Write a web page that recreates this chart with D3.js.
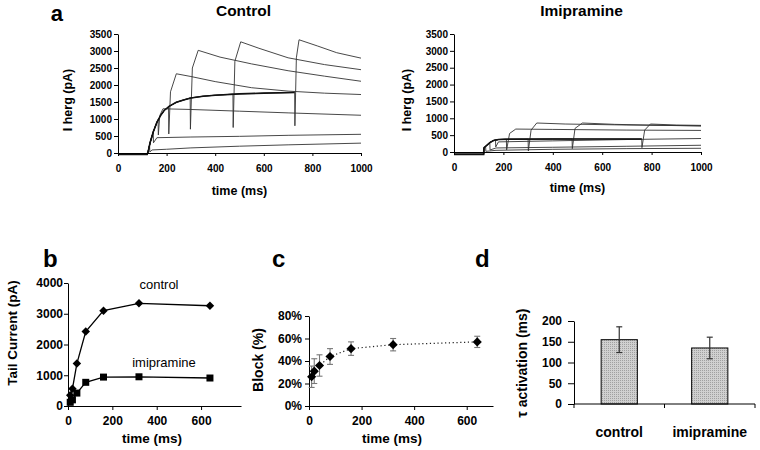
<!DOCTYPE html>
<html>
<head>
<meta charset="utf-8">
<script src="https://cdn.jsdelivr.net/npm/d3@7"></script>
<style>
body{margin:0;background:#fff;}
svg text{font-family:"Liberation Sans",Arial,sans-serif;fill:#000;}
</style>
</head>
<body>
<svg id="chart" width="760" height="450"></svg>
<script>
// panel a: hERG current traces, [time ms, current pA]
const aTimeTicks=[0,200,400,600,800,1000];
const aCurrentTicks=[0,500,1000,1500,2000,2500,3000,3500];

const ctrlAct=[[0,-40],[120,-40],[124,40],[132,300],[145,620],[160,900],[175,1100],[190,1250],[210,1370],[240,1490],[270,1560],[300,1620],[350,1670],[400,1700],[500,1740],[600,1760],[727,1780]];
const ctrlEnds=[130,145,165,208,297,473,727];
const ctrlTails=[
  [[130,220],[131,30],[140,90],[200,110],[300,150],[500,200],[700,240],[1000,290]],
  [[145,600],[146,300],[160,450],[300,470],[500,490],[700,520],[1000,550]],
  [[165,980],[166,530],[172,1100],[185,1300],[300,1280],[500,1230],[700,1180],[1000,1110]],
  [[208,1360],[209,560],[216,1800],[240,2330],[300,2250],[400,2100],[550,1920],[700,1820],[850,1760],[1000,1720]],
  [[297,1620],[298,700],[306,2500],[330,3020],[420,2820],[550,2620],[700,2420],[850,2260],[1000,2110]],
  [[473,1730],[474,750],[481,2700],[505,3270],[580,3080],[700,2800],[850,2600],[1000,2450]],
  [[727,1780],[728,800],[734,2800],[745,3330],[820,3150],[900,2950],[1000,2790]]
];

const imiAct=[[0,-70],[120,-70],[121,120],[130,180],[145,280],[160,340],[180,370],[220,380],[400,385],[600,385],[760,385]];
const imiEnds=[128,145,168,212,300,478,760];
const imiTails=[
  [[128,160],[129,20],[170,50],[400,80],[700,100],[1000,110]],
  [[145,280],[146,60],[170,120],[400,140],[700,170],[1000,200]],
  [[168,350],[169,150],[180,300],[400,330],[700,370],[1000,400]],
  [[212,378],[213,60],[225,550],[250,680],[400,670],[700,650],[1000,640]],
  [[300,382],[301,30],[312,650],[335,860],[450,830],[700,800],[1000,780]],
  [[478,385],[479,100],[490,700],[520,860],[650,820],[850,790],[1000,770]],
  [[760,385],[761,130],[772,650],[795,830],[900,800],[1000,790]]
];

// panel b: tail current vs pulse duration
const pulseTimes=[10,20,40,80,160,320,640];
const tailControl=[350,560,1380,2420,3100,3340,3260];
const tailImi=[120,200,420,770,940,950,910];
const bTimeTicks=[0,200,400,600];
const bCurrentTicks=[0,1000,2000,3000,4000];

// panel c: block
const blockMean=[0.26,0.31,0.36,0.44,0.51,0.545,0.57];
const blockErr=[0.095,0.11,0.095,0.07,0.06,0.055,0.05];
const cTimeTicks=[0,200,400,600];
const cBlockTicks=[0,0.2,0.4,0.6,0.8];

// panel d: tau activation
const tauCats=['control','imipramine'];
const tauMean=[155,135];
const tauErr=[31,26];
const dTauTicks=[0,50,100,150,200];

const svg=d3.select('#chart');
const tickFont='"DejaVu Sans",sans-serif';
const plain=d3.format('d');

function styleAxis(g,fs){
  g.attr('font-family',tickFont).attr('font-size',fs).attr('font-weight','bold');
  g.selectAll('.domain').attr('stroke','#000');
  g.selectAll('.tick line').attr('stroke','#000');
}

function label(x,y,txt,size,weight,anchor,rot){
  const t=svg.append('text').attr('x',x).attr('y',y).text(txt)
    .attr('font-size',size).attr('font-weight',weight||'bold')
    .attr('text-anchor',anchor||'middle');
  if(rot) t.attr('transform','rotate(-90,'+x+','+y+')');
  return t;
}

function drawTraces(o){
  const x=d3.scaleLinear().domain([0,1000]).range([o.left,o.right]);
  const y=d3.scaleLinear().domain([0,3500]).range([o.bottom,o.top]);
  const line=d3.line().x(d=>x(d[0])).y(d=>y(d[1]));
  const g=svg.append('g');
  o.ends.forEach((e,i)=>{
    g.append('path').datum(o.act.filter(p=>p[0]<e).concat(o.tails[i]))
      .attr('fill','none').attr('stroke','#333').attr('stroke-width',0.9).attr('d',line);
  });
  g.append('path').datum(o.act).attr('fill','none').attr('stroke','#111')
    .attr('stroke-width',1.6).attr('d',line);

  svg.append('g').attr('transform','translate(0,'+y(0)+')')
    .call(d3.axisBottom(x).tickValues(aTimeTicks).tickFormat(plain).tickSize(3).tickPadding(9).tickSizeOuter(0))
    .call(g=>styleAxis(g,10));
  svg.append('g').attr('transform','translate('+o.left+',0)')
    .call(d3.axisLeft(y).tickValues(aCurrentTicks).tickFormat(plain).tickSize(4).tickPadding(2).tickSizeOuter(0))
    .call(g=>styleAxis(g,10));

  label((o.left+o.right)/2+4,16,o.title,15.5);
  label((o.left+o.right)/2,o.xlabY,'time (ms)',12.5);
  label(o.ylabX,100,'I herg (pA)',12.5,'bold','middle',true);
}

drawTraces({left:118,right:361,top:34,bottom:153,act:ctrlAct,ends:ctrlEnds,tails:ctrlTails,title:'Control',xlabY:195,ylabX:72});
drawTraces({left:454,right:701,top:34,bottom:152,act:imiAct,ends:imiEnds,tails:imiTails,title:'Imipramine',xlabY:192,ylabX:411});

label(63,21,'a',22,'bold','end');

// panel b
const xb=d3.scaleLinear().domain([0,780]).range([68,241]);
const yb=d3.scaleLinear().domain([0,4000]).range([406,283]);
const lineB=d3.line().x((d,i)=>xb(pulseTimes[i])).y(d=>yb(d));
svg.append('g').attr('transform','translate(0,406)')
  .call(d3.axisBottom(xb).tickValues(bTimeTicks).tickFormat(plain).tickSize(4).tickPadding(6).tickSizeOuter(0))
  .call(g=>styleAxis(g,12));
svg.append('g').attr('transform','translate(68,0)')
  .call(d3.axisLeft(yb).tickValues(bCurrentTicks).tickFormat(plain).tickSize(4).tickPadding(1).tickSizeOuter(0))
  .call(g=>styleAxis(g,12));
[tailControl,tailImi].forEach(s=>{
  svg.append('path').datum(s).attr('fill','none').attr('stroke','#000').attr('stroke-width',1.3).attr('d',lineB);
});
svg.selectAll('.dmdB').data(tailControl).enter().append('path')
  .attr('d',d3.symbol(d3.symbolSquare,36))
  .attr('transform',(d,i)=>'translate('+xb(pulseTimes[i])+','+yb(d)+') rotate(45)').attr('fill','#000');
svg.selectAll('.sqB').data(tailImi).enter().append('path')
  .attr('d',d3.symbol(d3.symbolSquare,49))
  .attr('transform',(d,i)=>'translate('+xb(pulseTimes[i])+','+yb(d)+')').attr('fill','#000');
label(159,289,'control',13,'normal');
label(164,367,'imipramine',13,'normal');
label(152,443,'time (ms)',13.5);
label(17,333,'Tail Current (pA)',13.5,'bold','middle',true);
label(43,267,'b',24,'bold','start');

// panel c
const xc=d3.scaleLinear().domain([0,700]).range([309,493]);
const yc=d3.scaleLinear().domain([0,0.8]).range([406,316]);
svg.append('g').attr('transform','translate(0,406)')
  .call(d3.axisBottom(xc).tickValues(cTimeTicks).tickFormat(plain).tickSize(4).tickPadding(6).tickSizeOuter(0))
  .call(g=>styleAxis(g,12));
svg.append('g').attr('transform','translate(309,0)')
  .call(d3.axisLeft(yc).tickValues(cBlockTicks).tickFormat(d3.format('.0%')).tickSize(4).tickPadding(3).tickSizeOuter(0))
  .call(g=>styleAxis(g,12));
svg.append('path').datum(blockMean).attr('fill','none').attr('stroke','#222')
  .attr('stroke-width',1.2).attr('stroke-dasharray','1.2,2.6')
  .attr('d',d3.line().x((d,i)=>xc(pulseTimes[i])).y(d=>yc(d)));
const errC=svg.append('g').attr('stroke','#777').attr('stroke-width',1.1);
blockMean.forEach((m,i)=>{
  const cx=xc(pulseTimes[i]);
  errC.append('line').attr('x1',cx).attr('x2',cx).attr('y1',yc(m-blockErr[i])).attr('y2',yc(m+blockErr[i]));
  errC.append('line').attr('x1',cx-3).attr('x2',cx+3).attr('y1',yc(m-blockErr[i])).attr('y2',yc(m-blockErr[i]));
  errC.append('line').attr('x1',cx-3).attr('x2',cx+3).attr('y1',yc(m+blockErr[i])).attr('y2',yc(m+blockErr[i]));
});
svg.selectAll('.dmdC').data(blockMean).enter().append('path')
  .attr('d',d3.symbol(d3.symbolSquare,42))
  .attr('transform',(d,i)=>'translate('+xc(pulseTimes[i])+','+yc(d)+') rotate(45)').attr('fill','#000');
label(392,443,'time (ms)',13.5);
label(263,360,'Block (%)',14,'bold','middle',true);
label(272,267,'c',24,'bold','start');

// panel d
const xd=d3.scaleBand().domain(tauCats).range([574,755]).paddingInner(0.6).paddingOuter(0.3);
const yd=d3.scaleLinear().domain([0,200]).range([404,321]);
const defs=svg.append('defs');
const pat=defs.append('pattern').attr('id','stip').attr('width',2).attr('height',2).attr('patternUnits','userSpaceOnUse');
pat.append('rect').attr('width',2).attr('height',2).attr('fill','#d0d0d0');
pat.append('rect').attr('width',1).attr('height',1).attr('fill','#a0a0a0');
svg.selectAll('.barD').data(tauMean).enter().append('rect')
  .attr('x',(d,i)=>xd(tauCats[i])).attr('width',xd.bandwidth())
  .attr('y',d=>yd(d)).attr('height',d=>yd(0)-yd(d))
  .attr('fill','url(#stip)').attr('stroke','#000').attr('stroke-width',1);
const errD=svg.append('g').attr('stroke','#333').attr('stroke-width',1.2);
tauMean.forEach((m,i)=>{
  const cx=xd(tauCats[i])+xd.bandwidth()/2;
  errD.append('line').attr('x1',cx).attr('x2',cx).attr('y1',yd(m-tauErr[i])).attr('y2',yd(m+tauErr[i]));
  errD.append('line').attr('x1',cx-3).attr('x2',cx+3).attr('y1',yd(m-tauErr[i])).attr('y2',yd(m-tauErr[i]));
  errD.append('line').attr('x1',cx-3).attr('x2',cx+3).attr('y1',yd(m+tauErr[i])).attr('y2',yd(m+tauErr[i]));
});
svg.append('g').attr('transform','translate(574,0)')
  .call(d3.axisLeft(yd).tickValues(dTauTicks).tickFormat(plain).tickSize(6).tickPadding(6).tickSizeOuter(0))
  .call(g=>styleAxis(g,12));
const xAxisD=svg.append('g').attr('transform','translate(0,404)');
xAxisD.append('line').attr('x1',574).attr('x2',755).attr('stroke','#000');
[574,664.5,755].forEach(t=>xAxisD.append('line').attr('x1',t).attr('x2',t).attr('y1',0).attr('y2',4).attr('stroke','#000'));
tauCats.forEach(c=>label(xd(c)+xd.bandwidth()/2,437,c,14));
label(527,363,'\u03c4 activation (ms)',14,'bold','middle',true);
label(475,267,'d',24,'bold','start');
</script>
</body>
</html>
